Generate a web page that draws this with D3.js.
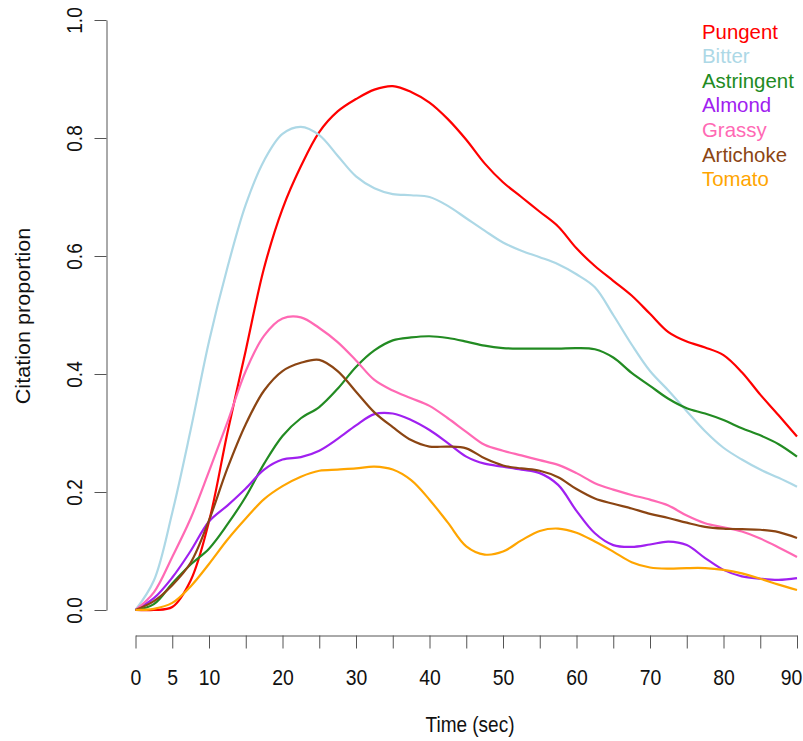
<!DOCTYPE html>
<html>
<head>
<meta charset="utf-8">
<script src="https://cdn.jsdelivr.net/npm/d3@7"></script>
<style>
html,body{margin:0;padding:0;background:#fff;}
svg{display:block;font-family:"Liberation Sans",Arial,Helvetica,sans-serif;}
</style>
</head>
<body>
<div id="chart"></div>
<script>
// time points (sec)
const times = [0,2.5,5,7.5,10,12.5,15,17.5,20,22.5,25,27.5,30,32.5,35,37.5,40,42.5,45,47.5,50,52.5,55,57.5,60,62.5,65,67.5,70,72.5,75,77.5,80,82.5,85,87.5,90];

// citation proportions
const pungent    = [0,0,0.005,0.05,0.15,0.30,0.44,0.58,0.68,0.752,0.81,0.845,0.866,0.882,0.888,0.878,0.86,0.832,0.797,0.757,0.725,0.700,0.675,0.650,0.613,0.583,0.558,0.533,0.502,0.471,0.455,0.445,0.432,0.403,0.365,0.330,0.294];
const bitter     = [0,0.05,0.165,0.305,0.455,0.58,0.687,0.762,0.807,0.819,0.805,0.77,0.735,0.715,0.705,0.703,0.70,0.685,0.664,0.643,0.623,0.609,0.598,0.586,0.569,0.547,0.50,0.45,0.405,0.372,0.337,0.303,0.275,0.255,0.238,0.224,0.209];
const astringent = [0,0.01,0.045,0.077,0.104,0.145,0.192,0.248,0.295,0.325,0.344,0.375,0.412,0.44,0.457,0.462,0.464,0.461,0.455,0.448,0.444,0.443,0.443,0.443,0.444,0.442,0.428,0.402,0.38,0.358,0.342,0.333,0.322,0.308,0.296,0.281,0.26];
const almond     = [0,0.02,0.055,0.1,0.15,0.177,0.206,0.238,0.255,0.259,0.27,0.29,0.313,0.332,0.333,0.322,0.305,0.283,0.26,0.248,0.243,0.238,0.232,0.212,0.168,0.13,0.11,0.107,0.111,0.116,0.11,0.088,0.068,0.057,0.053,0.051,0.054];
const grassy     = [0,0.03,0.09,0.155,0.235,0.318,0.405,0.465,0.494,0.496,0.478,0.454,0.423,0.39,0.372,0.359,0.346,0.325,0.302,0.28,0.27,0.262,0.254,0.246,0.232,0.215,0.204,0.195,0.187,0.177,0.16,0.147,0.14,0.133,0.121,0.106,0.09];
const artichoke  = [0,0.015,0.042,0.08,0.152,0.24,0.315,0.372,0.405,0.419,0.424,0.405,0.37,0.335,0.31,0.288,0.277,0.277,0.274,0.257,0.245,0.24,0.236,0.225,0.205,0.189,0.18,0.172,0.163,0.156,0.148,0.141,0.138,0.137,0.136,0.132,0.122];
const tomato     = [0,0.002,0.012,0.04,0.078,0.119,0.155,0.188,0.21,0.226,0.236,0.238,0.24,0.243,0.238,0.22,0.187,0.148,0.108,0.094,0.099,0.118,0.134,0.138,0.131,0.116,0.099,0.081,0.072,0.07,0.071,0.071,0.068,0.062,0.053,0.043,0.034];

const names  = ["Pungent","Bitter","Astringent","Almond","Grassy","Artichoke","Tomato"];
const values = [pungent,bitter,astringent,almond,grassy,artichoke,tomato];
const colors = ["#ff0000","#add8e6","#228b22","#a020f0","#ff69b4","#8b4513","#ffa500"];

const xTicks = [0,5,10,15,20,25,30,35,40,45,50,55,60,65,70,75,80,85,90];
const xLabels = [0,5,10,20,30,40,50,60,70,80,90];
const yTicks = [0,0.2,0.4,0.6,0.8,1.0];

const W=803,H=741;
const svg=d3.select("#chart").append("svg").attr("width",W).attr("height",H);

const x=d3.scaleLinear().domain([0,90]).range([135.5,797]);
const y=d3.scaleLinear().domain([0,1]).range([610,20]);

// x axis
const gx=svg.append("g").attr("transform","translate(0,635.5)")
  .call(d3.axisBottom(x).tickValues(xTicks).tickSize(13).tickSizeOuter(0)
    .tickFormat(d=>xLabels.includes(d)?d:""));
gx.select(".domain").attr("stroke","#555");
gx.selectAll(".tick line").attr("stroke","#555");
gx.selectAll(".tick text").attr("y",0).attr("dy",0)
  .attr("transform",d=>`translate(${d===90?-6:0},49) scale(0.97,1.12)`)
  .attr("font-size",20).attr("fill","#111");

// y axis
const gy=svg.append("g").attr("transform","translate(106.5,0)")
  .call(d3.axisLeft(y).tickValues(yTicks).tickSize(12).tickSizeOuter(0).tickFormat(d3.format(".1f")));
gy.select(".domain").attr("stroke","#555");
gy.selectAll(".tick line").attr("stroke","#555");
gy.selectAll(".tick text").attr("x",0).attr("dy",0).attr("text-anchor","middle")
  .attr("transform","translate(-25,0) rotate(-90) scale(0.95,1.12)")
  .attr("font-size",20).attr("fill","#111");
svg.selectAll(".domain, .tick line").attr("stroke-width",1);

// axis titles
svg.append("text").attr("transform","translate(470,732) scale(0.95,1.1)")
  .attr("text-anchor","middle").attr("font-size",20).attr("fill","#111").text("Time (sec)");
svg.append("text").attr("transform","translate(30,316) rotate(-90) scale(1.08,1.05)")
  .attr("text-anchor","middle").attr("font-size",20).attr("fill","#111").text("Citation proportion");

// curves
const line=d3.line().x((d,i)=>x(times[i])).y(d=>y(d)).curve(d3.curveCatmullRom.alpha(0.5));
svg.append("g").selectAll("path").data(values).join("path")
  .attr("fill","none").attr("stroke",(d,i)=>colors[i]).attr("stroke-width",2.2)
  .attr("stroke-linejoin","round").attr("d",line);

// legend
svg.append("g").selectAll("text").data(names).join("text")
  .attr("x",702).attr("y",(d,i)=>38.5+i*24.6)
  .attr("font-size",20.4).attr("fill",(d,i)=>colors[i]).text(d=>d);
</script>
</body>
</html>
